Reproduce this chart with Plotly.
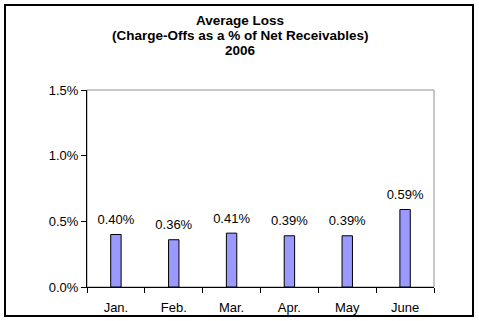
import plotly.graph_objects as go

months = ["Jan.", "Feb.", "Mar.", "Apr.", "May", "June"]
loss_pct = [0.40, 0.36, 0.41, 0.39, 0.39, 0.59]
title_lines = ["Average Loss", "(Charge-Offs as a % of Net Receivables)", "2006"]
y_ticks = [0.0, 0.5, 1.0, 1.5]

FONT = "Liberation Sans, Arial, sans-serif"
L, R, T, B = 87, 45, 90, 34
W, H = 479, 321
pw, ph = W - L - R, H - T - B

def px_x(X):
    return (X - L) / pw

def px_y(Y):
    return (H - B - Y) / ph

fig = go.Figure()
fig.add_trace(go.Bar(
    x=months, y=loss_pct,
    width=0.18,
    marker=dict(color="#9999FF", line=dict(color="black", width=1)),
    hoverinfo="skip",
))
fig.add_trace(go.Scatter(
    x=months, y=loss_pct, mode="markers+text",
    marker=dict(size=10, color="rgba(0,0,0,0)"),
    text=[f"{v:.2f}%" for v in loss_pct],
    textposition="top center",
    textfont=dict(family=FONT, size=13, color="black"),
    cliponaxis=False, hoverinfo="skip",
))

annotations = []
for i, line in enumerate(title_lines):
    annotations.append(dict(
        text=f"<b>{line}</b>", xref="paper", yref="paper",
        x=px_x(240), y=px_y(20 + 15.5 * i), xanchor="center", yanchor="middle",
        showarrow=False, font=dict(family=FONT, size=13.5, color="black"),
    ))

shapes = [
    dict(type="rect", xref="paper", yref="paper", x0=0, y0=0, x1=1, y1=1,
         line=dict(color="#909090", width=1), layer="below"),
    dict(type="rect", xref="paper", yref="paper",
         x0=px_x(5), y0=px_y(316), x1=px_x(473), y1=px_y(5),
         line=dict(color="black", width=2)),
]

fig.update_layout(
    width=W, height=H,
    margin=dict(l=L, r=R, t=T, b=B, autoexpand=False),
    paper_bgcolor="white", plot_bgcolor="white",
    showlegend=False,
    annotations=annotations, shapes=shapes,
    font=dict(family=FONT, size=13, color="black"),
    xaxis=dict(showline=True, linecolor="black", linewidth=1, automargin=False,
               ticks="outside", tickson="boundaries", ticklen=5, tickcolor="black",
               ticklabelstandoff=8, showgrid=False,
               tickfont=dict(family=FONT, size=13, color="black")),
    yaxis=dict(range=[0, 1.5], tickvals=y_ticks, ticktext=[f"{v:.1f}%" for v in y_ticks],
               showline=True, linecolor="black", linewidth=1, automargin=False,
               ticks="outside", ticklen=5, tickcolor="black", showgrid=False, zeroline=False,
               tickfont=dict(family=FONT, size=13, color="black")),
)

fig.write_html("out.html")
